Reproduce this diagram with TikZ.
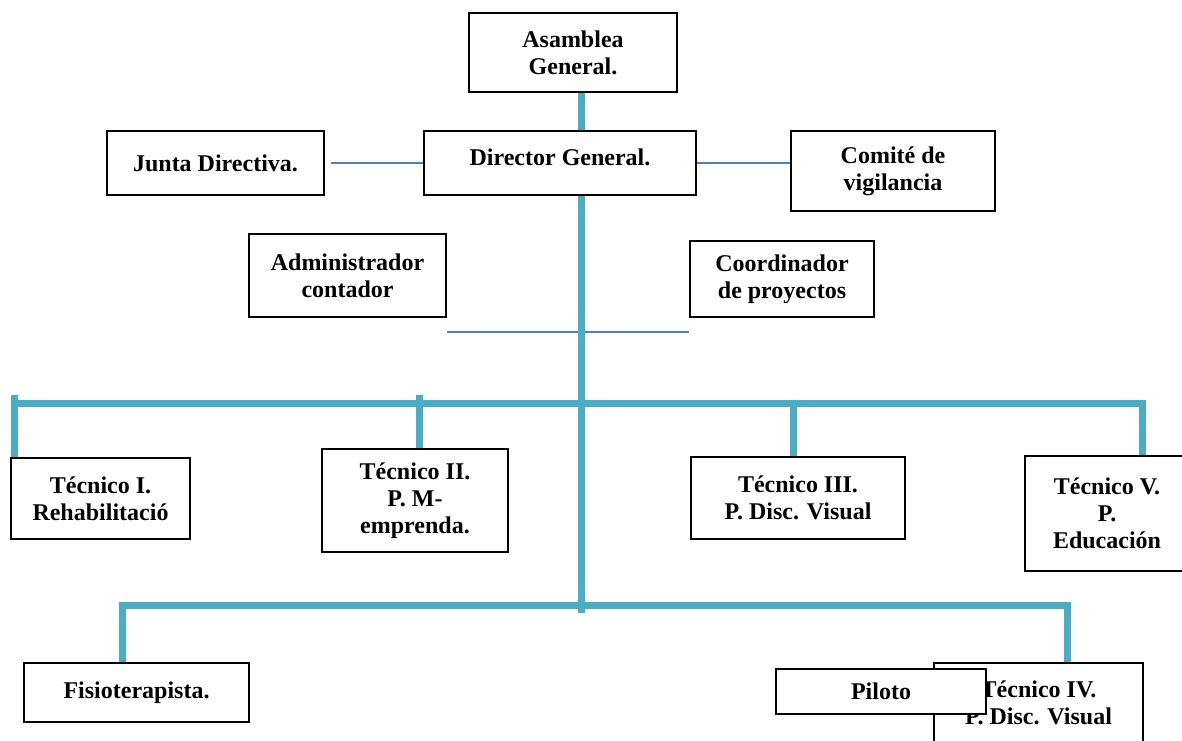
\documentclass[tikz,border=0pt]{standalone}
\usepackage{fontspec}
\setmainfont{Liberation Serif}
\usepackage{tikz}
\usetikzlibrary{positioning,calc}
\usepackage{xcolor}
\definecolor{busblue}{RGB}{75,172,198}
\definecolor{linkblue}{RGB}{79,129,189}
\tikzstyle{box} = [draw, line width=1.6pt, fill=white, align=center, inner sep=0pt, font=\bfseries\fontsize{24}{27}\selectfont]
\tikzstyle{bus} = [line width=7pt, color=busblue, line join=miter]
\tikzstyle{link} = [line width=1.8pt, color=linkblue]

\begin{document}
\begin{tikzpicture}[x=1pt, y=1pt]
    \clip (0,0) rectangle (1182,-740);
    \fill[white] (0,0) rectangle (1182,-740);

    % Top
    \node[box, minimum width=208, minimum height=79] (ag) at (573,-52.5) {Asamblea\\General.};
    \node[box, minimum width=272, minimum height=64, text depth=12pt] (dg) at (560,-163) {Director General.};
    \node[box, minimum width=217, minimum height=64] (jd) at (215.5,-163) {Junta Directiva.};
    \node[box, minimum width=204, minimum height=80] (cv) at (893,-171) {Comité de\\vigilancia};
    \node[box, minimum width=197, minimum height=83] (ac) at (347.5,-275.5) {Administrador\\contador};
    \node[box, minimum width=184, minimum height=76] (cp) at (782,-279) {Coordinador\\de proyectos};

    % Tecnicos
    \node[box, minimum width=179, minimum height=81] (t1) at (100.5,-498.5) {Técnico I.\\Rehabilitació};
    \node[box, minimum width=186, minimum height=103] (t2) at (415,-500.5) {Técnico II.\\P. M-\\emprenda.};
    \node[box, minimum width=214, minimum height=82] (t3) at (798,-498) {Técnico III.\\P. Disc. Visual};
    \node[box, minimum width=164, minimum height=115] (t5) at (1107,-513.5) {Técnico V.\\P.\\Educación};

    % Bottom
    \node[box, minimum width=225, minimum height=59] (fi) at (136.5,-692.5) {Fisioterapista.};
    \node[box, minimum width=209, minimum height=79] (t4) at (1038.5,-702.5) {Técnico IV.\\P. Disc. Visual};
    \node[box, minimum width=210, minimum height=45] (pi) at (881,-691.5) {Piloto};

    % Bus points
    \coordinate (trunk) at (581,-613);
    \coordinate (h1) at (14,-403);
    \coordinate (h2) at (419,-395);
    \coordinate (h3) at (793,-403);
    \coordinate (h5) at (1142,-403);
    \coordinate (c1) at (122,-605);
    \coordinate (c2) at (1067,-605);

    % Thin links
    \draw[link] ([xshift=6pt]jd.east) -- (dg.west);
    \draw[link] (dg.east) -- (dg.east -| cv.west);
    \draw[link] ([yshift=-14pt]ac.south east) -- ([yshift=-14pt]cp.south west);

    % Trunk
    \draw[bus] (ag.south -| trunk) -- (dg.north -| trunk);
    \draw[bus] (dg.south -| trunk) -- (trunk);

    % Upper bus
    \draw[bus] (h1) -- (h5) -- (t5.north -| h5);
    \draw[bus] ([yshift=8pt]h1) -- (t1.north -| h1);
    \draw[bus] (h2) -- (t2.north -| h2);
    \draw[bus] (h3) -- (t3.north -| h3);

    % Lower bus
    \draw[bus] (fi.north -| c1) -- (c1) -- (c2) -- (t4.north -| c2);
\end{tikzpicture}
\end{document}
